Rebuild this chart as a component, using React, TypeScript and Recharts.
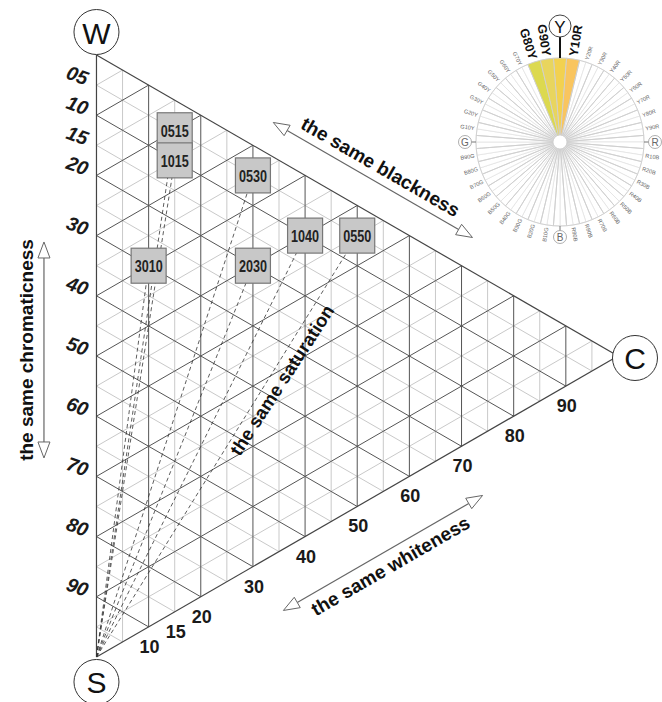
import { ScatterChart, Scatter, XAxis, YAxis, ReferenceLine, PieChart, Pie, Cell } from 'recharts';

const FONT = '"Liberation Sans", Arial, Helvetica, sans-serif';

// NCS triangle. x = chromaticness, y = blackness + chromaticness / 2  (W at y=0, S at y=100, C at x=100)
const gridLevels = [5, 10, 15, 20, 25, 30, 35, 40, 45, 50, 55, 60, 65, 70, 75, 80, 85, 90, 95];
const blacknessLabels = ['05', '10', '15', '20', '30', '40', '50', '60', '70', '80', '90'];
const chromaticnessLabels = ['10', '15', '20', '30', '40', '50', '60', '70', '80', '90'];

const sampleCodes = ['0515', '1015', '0530', '3010', '2030', '1040', '0550'];
const sampleBlackness = [5, 10, 5, 30, 20, 10, 5];
const sampleChromaticness = [15, 15, 30, 10, 30, 40, 50];

const hueNames = [
  'Y', 'Y10R', 'Y20R', 'Y30R', 'Y40R', 'Y50R', 'Y60R', 'Y70R', 'Y80R', 'Y90R',
  'R', 'R10B', 'R20B', 'R30B', 'R40B', 'R50B', 'R60B', 'R70B', 'R80B', 'R90B',
  'B', 'B10G', 'B20G', 'B30G', 'B40G', 'B50G', 'B60G', 'B70G', 'B80G', 'B90G',
  'G', 'G10Y', 'G20Y', 'G30Y', 'G40Y', 'G50Y', 'G60Y', 'G70Y', 'G80Y', 'G90Y',
];
const highlightedHues = ['G80Y', 'G90Y', 'Y', 'Y10R'];
const highlightColors = ['#dcd94f', '#e8d55e', '#f2d150', '#f9c55f'];
const boldHueLabels = ['G80Y', 'G90Y', 'Y10R'];
const markerHues = ['R', 'B', 'G'];

// axis ranges picked so the triangle sits where it does in the figure
const X_DOMAIN = [-18.5, 108.44];
const Y_DOMAIN = [-9.14, 107.48];

const DARK = '#555';
const LIGHT = '#c9c9c9';

const pt = (s: number, c: number) => ({ x: c, y: s + c / 2 });

const blackLine = (k: number) => [pt(k, 0), pt(k, 100 - k)];
const chromaLine = (k: number) => [pt(0, k), pt(100 - k, k)];
const whiteLine = (k: number) => [pt(100 - k, 0), pt(0, 100 - k)];

const gridSegments = gridLevels.flatMap((k) => [
  { seg: blackLine(k), major: k % 10 === 0 },
  { seg: chromaLine(k), major: k % 10 === 0 },
  { seg: whiteLine(k), major: k % 10 === 0 },
]);
const edgeSegments = [blackLine(0), chromaLine(0), whiteLine(0)];

const sampleData = sampleCodes.map((code, i) => ({
  code,
  ...pt(sampleBlackness[i], sampleChromaticness[i]),
}));

const blacknessData = blacknessLabels.map((l) => ({ label: l, ...pt(Number(l), 0) }));
const chromaData = chromaticnessLabels.map((l) => ({ label: l, ...pt(100 - Number(l), Number(l)) }));

const vertexData = [
  { name: 'W', ...pt(0, 0), dx: 0, dy: -23 },
  { name: 'S', ...pt(100, 0), dx: 0, dy: 25 },
  { name: 'C', ...pt(0, 100), dx: 17, dy: 2 },
];

const arrowData = [
  { text: 'the same blackness', x: 53.0, y: 20.76, length: 230, angle: 30, offset: -15, textAngle: 30 },
  { text: 'the same whiteness', x: 54.94, y: 82.72, length: 230, angle: -30, offset: 15, textAngle: -30 },
  { text: 'the same chromaticness', x: -10.07, y: 49.0, length: 216, angle: 90, offset: 17, textAngle: -90 },
];
const saturationLabel = [{ text: 'the same saturation', x: 35.57, y: 54.0, angle: -57 }];

function SampleBox(props: any) {
  const { cx, cy, payload } = props;
  return (
    <g>
      <rect x={cx - 17.5} y={cy - 17.5} width={35} height={35} fill="#c8c8c8" stroke="#777" strokeWidth={1.2} />
      <text x={cx} y={cy + 1} textAnchor="middle" dominantBaseline="central" fontFamily={FONT} fontWeight="bold" fontSize={16} fill="#222" textLength={28} lengthAdjust="spacingAndGlyphs">
        {payload.code}
      </text>
    </g>
  );
}

function BlacknessTick(props: any) {
  const { cx, cy, payload } = props;
  const x = cx - 19;
  const y = cy - 10;
  return (
    <text x={x} y={y} textAnchor="middle" dominantBaseline="central" fontFamily={FONT} fontWeight="bold" fontStyle="italic" fontSize={19.5} fill="#1a1a1a" transform={`rotate(20, ${x}, ${y})`}>
      {payload.label}
    </text>
  );
}

function ChromaTick(props: any) {
  const { cx, cy, payload } = props;
  return (
    <text x={cx + 1} y={cy + 20} textAnchor="middle" dominantBaseline="central" fontFamily={FONT} fontWeight="bold" fontSize={18} fill="#1a1a1a">
      {payload.label}
    </text>
  );
}

function Vertex(props: any) {
  const { cx, cy, payload } = props;
  const x = cx + payload.dx;
  const y = cy + payload.dy;
  return (
    <g>
      <circle cx={x} cy={y} r={22.5} fill="#fff" stroke="#333" strokeWidth={1} />
      <text x={x} y={y + 1} textAnchor="middle" dominantBaseline="central" fontFamily={FONT} fontSize={30} fill="#111">
        {payload.name}
      </text>
    </g>
  );
}

function DoubleArrow(props: any) {
  const { cx, cy, payload } = props;
  const rad = (payload.angle * Math.PI) / 180;
  const ux = Math.cos(rad);
  const uy = Math.sin(rad);
  const nx = -uy;
  const ny = ux;
  const half = payload.length / 2;
  const head = 16;
  const hw = 6;
  const t1 = [cx - ux * half, cy - uy * half];
  const t2 = [cx + ux * half, cy + uy * half];
  const b1 = [t1[0] + ux * head, t1[1] + uy * head];
  const b2 = [t2[0] - ux * head, t2[1] - uy * head];
  const tri = (t: number[], b: number[]) =>
    `${t[0]},${t[1]} ${b[0] + nx * hw},${b[1] + ny * hw} ${b[0] - nx * hw},${b[1] - ny * hw}`;
  const tx = cx + nx * payload.offset;
  const ty = cy + ny * payload.offset;
  return (
    <g>
      <line x1={b1[0]} y1={b1[1]} x2={b2[0]} y2={b2[1]} stroke="#666" strokeWidth={1.2} />
      <polygon points={tri(t1, b1)} fill="#fff" stroke="#666" strokeWidth={1} />
      <polygon points={tri(t2, b2)} fill="#fff" stroke="#666" strokeWidth={1} />
      <text x={tx} y={ty} textAnchor="middle" dominantBaseline="central" fontFamily={FONT} fontWeight="bold" fontSize={19} fill="#111" transform={`rotate(${payload.textAngle}, ${tx}, ${ty})`}>
        {payload.text}
      </text>
    </g>
  );
}

function RotatedLabel(props: any) {
  const { cx, cy, payload } = props;
  return (
    <text x={cx} y={cy} textAnchor="middle" dominantBaseline="central" fontFamily={FONT} fontWeight="bold" fontSize={18.5} fill="#111" transform={`rotate(${payload.angle}, ${cx}, ${cy})`}>
      {payload.text}
    </text>
  );
}

function HueLabel(props: any) {
  const { cx, cy, index } = props;
  const name = hueNames[index];
  const phi = index * 9;
  const theta = phi - 90;
  const rad = (theta * Math.PI) / 180;
  const at = (r: number) => [cx + r * Math.cos(rad), cy + r * Math.sin(rad)];
  if (name === 'Y') {
    const [sx1, sy1] = at(84);
    const [sx2, sy2] = at(105);
    const [ox, oy] = at(116);
    return (
      <g>
        <line x1={sx1} y1={sy1} x2={sx2} y2={sy2} stroke="#111" strokeWidth={2} />
        <circle cx={ox} cy={oy} r={11} fill="#fff" stroke="#444" strokeWidth={1} />
        <text x={ox} y={oy + 1} textAnchor="middle" dominantBaseline="central" fontFamily={FONT} fontSize={17} fill="#111">Y</text>
      </g>
    );
  }
  if (markerHues.includes(name)) {
    const [sx1, sy1] = at(84);
    const [sx2, sy2] = at(89);
    const [ox, oy] = at(95);
    return (
      <g>
        <line x1={sx1} y1={sy1} x2={sx2} y2={sy2} stroke="#777" strokeWidth={1} />
        <circle cx={ox} cy={oy} r={6.5} fill="#fff" stroke="#999" strokeWidth={0.8} />
        <text x={ox} y={oy + 0.5} textAnchor="middle" dominantBaseline="central" fontFamily={FONT} fontSize={10} fill="#666">{name}</text>
      </g>
    );
  }
  const big = boldHueLabels.includes(name);
  const [x, y] = at(big ? 87 : 86.5);
  const right = phi < 180;
  const rot = right ? theta : theta - 180;
  return (
    <text x={x} y={y} textAnchor={right ? 'start' : 'end'} dominantBaseline="central" fontFamily={FONT} fontWeight={big ? 'bold' : 'normal'} fontSize={big ? 12.5 : 5.6} fill={big ? '#111' : '#666'} transform={`rotate(${rot}, ${x}, ${y})`}>
      {name}
    </text>
  );
}

const hueSlices = hueNames.map((name) => ({ name, value: 1 }));

export default function App() {
  return (
    <div style={{ position: 'absolute', left: 0, top: 0, width: 662, height: 702, background: '#fff' }}>
      <ScatterChart width={662} height={702} margin={{ top: 0, right: 0, bottom: 0, left: 0 }}>
        <XAxis type="number" dataKey="x" domain={X_DOMAIN} allowDataOverflow hide />
        <YAxis type="number" dataKey="y" domain={Y_DOMAIN} allowDataOverflow reversed hide />

        {gridSegments.filter((g) => !g.major).map((g, i) => (
          <ReferenceLine key={`l${i}`} segment={g.seg} stroke={LIGHT} strokeWidth={1} />
        ))}
        {gridSegments.filter((g) => g.major).map((g, i) => (
          <ReferenceLine key={`m${i}`} segment={g.seg} stroke={DARK} strokeWidth={1} />
        ))}
        {edgeSegments.map((seg, i) => (
          <ReferenceLine key={`e${i}`} segment={seg} stroke="#444" strokeWidth={1.2} />
        ))}
        {sampleData.map((d, i) => (
          <ReferenceLine key={`d${i}`} segment={[pt(100, 0), { x: d.x, y: d.y }]} stroke="#333" strokeWidth={0.8} strokeDasharray="4 3" />
        ))}

        <Scatter data={sampleData} shape={SampleBox} isAnimationActive={false} />
        <Scatter data={blacknessData} shape={BlacknessTick} isAnimationActive={false} />
        <Scatter data={chromaData} shape={ChromaTick} isAnimationActive={false} />
        <Scatter data={vertexData} shape={Vertex} isAnimationActive={false} />
        <Scatter data={arrowData} shape={DoubleArrow} isAnimationActive={false} />
        <Scatter data={saturationLabel} shape={RotatedLabel} isAnimationActive={false} />
      </ScatterChart>

      <div style={{ position: 'absolute', left: 437, top: 0 }}>
        <PieChart width={225} height={250}>
          <Pie
            data={hueSlices}
            dataKey="value"
            cx={118}
            cy={137}
            innerRadius={7}
            outerRadius={84}
            startAngle={90}
            endAngle={-270}
            stroke="#e3e3e3"
            strokeWidth={0.8}
            fill="#fff"
            isAnimationActive={false}
          />
          <Pie
            data={hueSlices}
            dataKey="value"
            cx={118}
            cy={137}
            innerRadius={7}
            outerRadius={84}
            startAngle={94.5}
            endAngle={-265.5}
            stroke="#cfcfcf"
            strokeWidth={0.9}
            label={HueLabel}
            labelLine={false}
            isAnimationActive={false}
          >
            {hueSlices.map((h) => {
              const k = highlightedHues.indexOf(h.name);
              return <Cell key={h.name} fill={k >= 0 ? highlightColors[k] : 'none'} />;
            })}
          </Pie>
        </PieChart>
      </div>
    </div>
  );
}
